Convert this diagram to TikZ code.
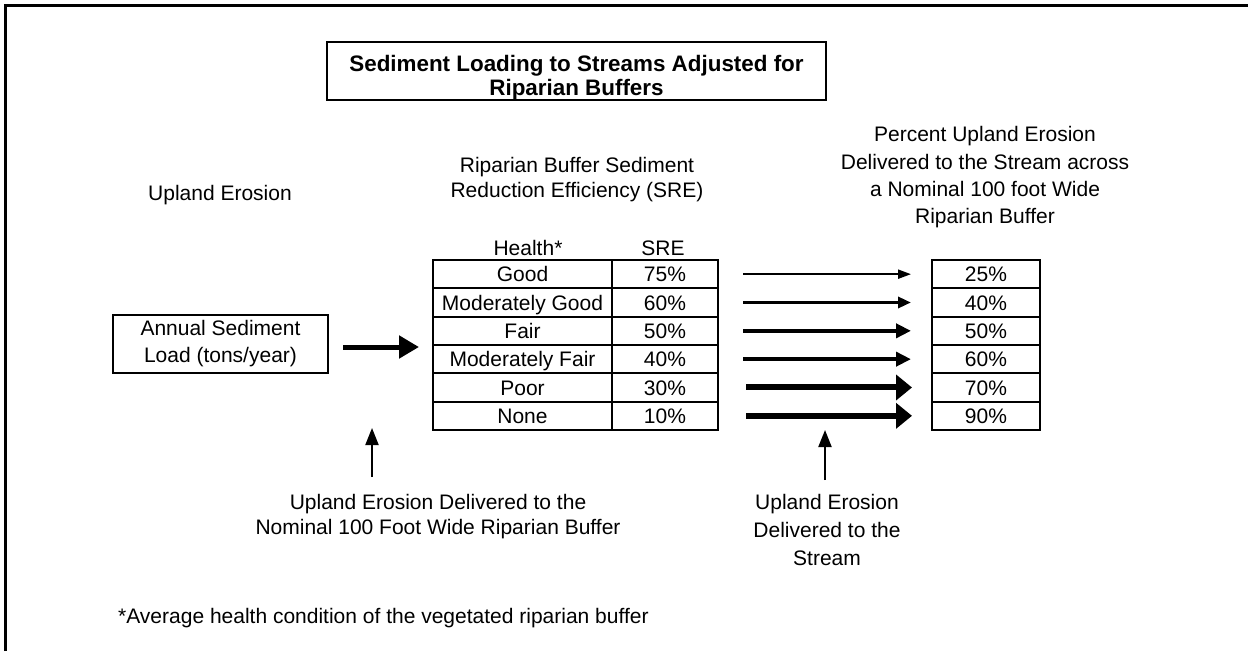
\documentclass[tikz,border=0pt]{standalone}
\usepackage{fontspec}
\setmainfont{Liberation Sans}
\usetikzlibrary{arrows.meta,calc}
\begin{document}
\begin{tikzpicture}[x=1pt,y=-1pt,
  every node/.style={font=\fontsize{21}{27}\selectfont, inner sep=0pt, align=center},
  box/.style={draw, line width=2pt},
  cell/.style={draw, line width=2pt, minimum height=28.33pt, text height=15.5pt, text depth=0pt},
  arA/.style={line width=2pt, -{Triangle[length=13pt,width=9pt]}},
  arB/.style={line width=3.5pt, -{Triangle[length=13pt,width=11pt]}},
  arC/.style={line width=4pt, -{Triangle[length=15pt,width=14pt]}},
  arD/.style={line width=6pt, -{Triangle[length=16pt,width=25pt]}},
  bigar/.style={line width=5pt, -{Triangle[length=20pt,width=22pt]}},
  upar/.style={line width=2pt, -{Triangle[length=17pt,width=13pt]}},
  rowar/.style={shorten <=24pt, shorten >=20pt}
]
\useasboundingbox (0,0) rectangle (1248,651);
% frame
\draw[line width=2.5pt] (5.5,651) -- (5.5,5.5) -- (1248,5.5);

% title
\node[box, minimum width=499pt, minimum height=58pt] (title) at (576.5,71) {};
\node[anchor=north, font=\fontsize{22.4}{24}\selectfont\bfseries] (titletext) at (576.5,55)
  {Sediment Loading to Streams Adjusted for\\Riparian Buffers};

% headings
\node[anchor=base] (upland) at (220,200.5) {Upland Erosion};
\node[anchor=north, font=\fontsize{21}{25}\selectfont] (sreh) at (577,157.5)
  {Riparian Buffer Sediment\\Reduction Efficiency (SRE)};
\node[anchor=north, font=\fontsize{21}{27.3}\selectfont] (pcth) at (985,126.5)
  {Percent Upland Erosion\\Delivered to the Stream across\\a Nominal 100 foot Wide\\Riparian Buffer};
\node[anchor=base] (healthh) at (528,255) {Health*};
\node[anchor=base] (sreh2) at (663,255) {SRE};

% annual box
\node[box, minimum width=215pt, minimum height=58pt] (annual) at (220.5,344)
  {Annual Sediment\\Load (tons/year)};

% table
\foreach \i/\h/\s/\p in {1/Good/75\%/25\%, 2/Moderately Good/60\%/40\%, 3/Fair/50\%/50\%,
                         4/Moderately Fair/40\%/60\%, 5/Poor/30\%/70\%, 6/None/10\%/90\%}{
  \node[cell, minimum width=179pt] (h\i) at (522.5,{260+28.33*(\i-0.5)}) {\h};
  \node[cell, minimum width=106pt] (s\i) at (665,{260+28.33*(\i-0.5)}) {\s};
  \node[cell, minimum width=108pt] (p\i) at (986,{260+28.33*(\i-0.5)}) {\p};
}

% arrow into table
\draw[bigar] ($(annual.east)+(14,3)$) -- ($(annual.east -| h1.west)+(-13,3)$);

% row arrows
\draw[arA, rowar] (s1.east) -- (p1.west);
\draw[arB, rowar] (s2.east) -- (p2.west);
\draw[arC, rowar] (s3.east) -- (p3.west);
\draw[arC, rowar] (s4.east) -- (p4.west);
\draw[arD, shorten <=27pt, shorten >=19pt] (s5.east) -- (p5.west);
\draw[arD, shorten <=27pt, shorten >=19pt] (s6.east) -- (p6.west);

% bottom labels
\node[anchor=north, font=\fontsize{21}{25}\selectfont] (lowL) at (438,494.5)
  {Upland Erosion Delivered to the\\Nominal 100 Foot Wide Riparian Buffer};
\node[anchor=north, font=\fontsize{21}{28}\selectfont] (lowR) at (827,494.5)
  {Upland Erosion\\Delivered to the\\Stream};

\coordinate (uaL0) at (372,477);
\coordinate (uaL1) at (372,428);
\coordinate (uaR0) at (825,480);
\coordinate (uaR1) at (825,430);
\draw[upar] (uaL0) -- (uaL1);
\draw[upar] (uaR0) -- (uaR1);

% footnote
\node[anchor=base west] (foot) at (118,623) {*Average health condition of the vegetated riparian buffer};
\end{tikzpicture}
\end{document}
